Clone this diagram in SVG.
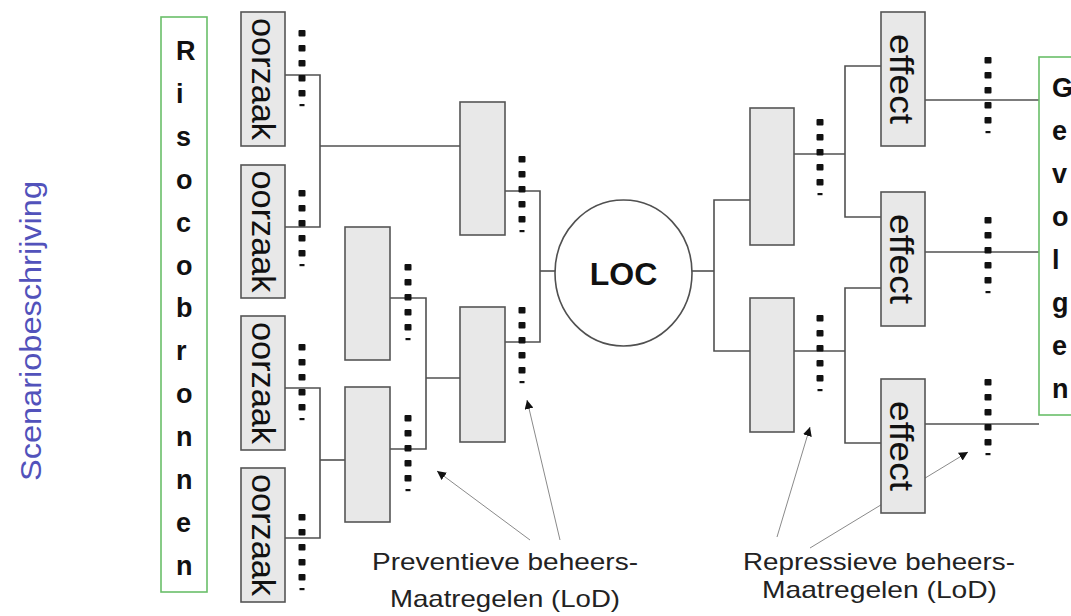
<svg xmlns="http://www.w3.org/2000/svg" xmlns:xlink="http://www.w3.org/1999/xlink" width="1071" height="616" viewBox="0 0 1071 616">
<style>
  .bg{fill:#ffffff}
  .box{fill:#e8e8e8;stroke:#555555;stroke-width:1.6}
  .green{fill:#ffffff;stroke:#6abf69;stroke-width:1.6}
  .con{fill:none;stroke:#505050;stroke-width:1.6}
  .ann{fill:none;stroke:#8a8a8a;stroke-width:1}
  .vt{font-family:"Liberation Sans",Arial,sans-serif;font-size:33px;fill:#111}
  .big{font-family:"Liberation Sans",Arial,sans-serif;font-size:27px;font-weight:bold;fill:#111}
  .lab{font-family:"Liberation Sans",Arial,sans-serif;font-size:24px;fill:#222}
  .scen{font-family:"Liberation Sans",Arial,sans-serif;font-size:30px;fill:#5252bb}
  .loc{font-family:"Liberation Sans",Arial,sans-serif;font-size:32px;font-weight:bold;fill:#111}
  .dot{fill:#111}
</style>
<defs>
  <g id="dots">
    <rect class="dot" x="-3.5" y="-3" width="7" height="6.5" rx="1"/>
    <rect class="dot" x="-3.5" y="12" width="7" height="6.5" rx="1"/>
    <rect class="dot" x="-3.5" y="27" width="7" height="6.5" rx="1"/>
    <rect class="dot" x="-3.5" y="42" width="7" height="6.5" rx="1"/>
    <rect class="dot" x="-3.5" y="57" width="7" height="6.5" rx="1"/>
    <rect class="dot" x="-2.5" y="71" width="5" height="2.2"/>
  </g>
  <marker id="ah" viewBox="0 0 10 10" refX="10" refY="5" markerWidth="9" markerHeight="9" markerUnits="userSpaceOnUse" orient="auto">
    <path d="M0,0 L10,5 L0,10 z" fill="#111"/>
  </marker>
</defs>
<rect class="bg" x="0" y="0" width="1071" height="616"/>

<text class="scen" transform="translate(41,331) rotate(-90)" text-anchor="middle" textLength="300" lengthAdjust="spacingAndGlyphs">Scenariobeschrijving</text>

<g id="connectors">
  <polyline class="con" points="285,75 320,75 320,227 285,227"/>
  <line class="con" x1="320" y1="146" x2="460" y2="146"/>
  <polyline class="con" points="285,388 320,388 320,538 285,538"/>
  <line class="con" x1="320" y1="460" x2="345" y2="460"/>
  <polyline class="con" points="390,298 426,298 426,449 390,449"/>
  <line class="con" x1="426" y1="378" x2="460" y2="378"/>
  <polyline class="con" points="505,191 540,191 540,342 505,342"/>
  <line class="con" x1="540" y1="271" x2="555" y2="271"/>
  <line class="con" x1="692" y1="271" x2="714" y2="271"/>
  <polyline class="con" points="750,200 714,200 714,351 750,351"/>
  <line class="con" x1="794" y1="154" x2="845" y2="154"/>
  <polyline class="con" points="881,66 845,66 845,217 881,217"/>
  <line class="con" x1="794" y1="351" x2="845" y2="351"/>
  <polyline class="con" points="881,288 845,288 845,443 881,443"/>
  <line class="con" x1="925" y1="100" x2="1039" y2="100"/>
  <line class="con" x1="925" y1="252" x2="1039" y2="252"/>
  <line class="con" x1="925" y1="424" x2="1039" y2="424"/>
  <line class="ann" x1="530" y1="540" x2="437" y2="471" marker-end="url(#ah)"/>
  <line class="ann" x1="560" y1="540" x2="527" y2="400" marker-end="url(#ah)"/>
  <line class="ann" x1="777" y1="537" x2="810" y2="427" marker-end="url(#ah)"/>
  <line class="ann" x1="810" y1="548" x2="968" y2="452" marker-end="url(#ah)"/>
</g>

<g id="dotted">
  <use xlink:href="#dots" href="#dots" x="302" y="33"/>
  <use xlink:href="#dots" href="#dots" x="302" y="193"/>
  <use xlink:href="#dots" href="#dots" x="302" y="347"/>
  <use xlink:href="#dots" href="#dots" x="302" y="517"/>
  <use xlink:href="#dots" href="#dots" x="408" y="267"/>
  <use xlink:href="#dots" href="#dots" x="408" y="418"/>
  <use xlink:href="#dots" href="#dots" x="522" y="159"/>
  <use xlink:href="#dots" href="#dots" x="522" y="310"/>
  <use xlink:href="#dots" href="#dots" x="820" y="122"/>
  <use xlink:href="#dots" href="#dots" x="820" y="318"/>
  <use xlink:href="#dots" href="#dots" x="988" y="60"/>
  <use xlink:href="#dots" href="#dots" x="988" y="220"/>
  <use xlink:href="#dots" href="#dots" x="988" y="382"/>
</g>

<g id="risicobronnen">
  <rect class="green" x="161" y="17" width="46" height="575"/>
  <text class="big" x="176" y="60">R</text>
  <text class="big" x="176" y="103">i</text>
  <text class="big" x="176" y="146">s</text>
  <text class="big" x="176" y="189">o</text>
  <text class="big" x="176" y="232">c</text>
  <text class="big" x="176" y="275">o</text>
  <text class="big" x="176" y="317">b</text>
  <text class="big" x="176" y="360">r</text>
  <text class="big" x="176" y="403">o</text>
  <text class="big" x="176" y="446">n</text>
  <text class="big" x="176" y="489">n</text>
  <text class="big" x="176" y="532">e</text>
  <text class="big" x="176" y="575">n</text>
</g>

<g id="oorzaak1">
  <rect class="box" x="241" y="12" width="44" height="134"/>
  <text class="vt" transform="translate(252,79) rotate(90)" text-anchor="middle" textLength="122" lengthAdjust="spacingAndGlyphs">oorzaak</text>
</g>
<g id="oorzaak2">
  <rect class="box" x="241" y="165" width="44" height="133"/>
  <text class="vt" transform="translate(252,231.5) rotate(90)" text-anchor="middle" textLength="122" lengthAdjust="spacingAndGlyphs">oorzaak</text>
</g>
<g id="oorzaak3">
  <rect class="box" x="241" y="316" width="44" height="134"/>
  <text class="vt" transform="translate(252,383) rotate(90)" text-anchor="middle" textLength="122" lengthAdjust="spacingAndGlyphs">oorzaak</text>
</g>
<g id="oorzaak4">
  <rect class="box" x="241" y="468" width="44" height="134"/>
  <text class="vt" transform="translate(252,535) rotate(90)" text-anchor="middle" textLength="122" lengthAdjust="spacingAndGlyphs">oorzaak</text>
</g>

<g id="prevA"><rect class="box" x="345" y="227" width="45" height="133"/></g>
<g id="prevB"><rect class="box" x="345" y="387" width="45" height="135"/></g>
<g id="prevC"><rect class="box" x="460" y="102" width="45" height="133"/></g>
<g id="prevD"><rect class="box" x="460" y="307" width="45" height="135"/></g>

<g id="loc">
  <ellipse cx="623.5" cy="273" rx="68.5" ry="73" fill="#ffffff" stroke="#505050" stroke-width="1.6"/>
  <text class="loc" x="623.5" y="285" text-anchor="middle">LOC</text>
</g>

<g id="repE"><rect class="box" x="750" y="108" width="44" height="137"/></g>
<g id="repF"><rect class="box" x="750" y="298" width="44" height="134"/></g>

<g id="effect1">
  <rect class="box" x="881" y="12" width="44" height="134"/>
  <text class="vt" transform="translate(890,79) rotate(90)" text-anchor="middle" textLength="90" lengthAdjust="spacingAndGlyphs">effect</text>
</g>
<g id="effect2">
  <rect class="box" x="881" y="192" width="44" height="134"/>
  <text class="vt" transform="translate(890,259) rotate(90)" text-anchor="middle" textLength="90" lengthAdjust="spacingAndGlyphs">effect</text>
</g>
<g id="effect3">
  <rect class="box" x="881" y="379" width="44" height="134"/>
  <text class="vt" transform="translate(890,446) rotate(90)" text-anchor="middle" textLength="90" lengthAdjust="spacingAndGlyphs">effect</text>
</g>

<g id="gevolgen">
  <rect class="green" x="1039" y="57" width="60" height="358"/>
  <text class="big" x="1052" y="97">G</text>
  <text class="big" x="1052" y="140">e</text>
  <text class="big" x="1052" y="183">v</text>
  <text class="big" x="1052" y="226">o</text>
  <text class="big" x="1052" y="269">l</text>
  <text class="big" x="1052" y="312">g</text>
  <text class="big" x="1052" y="355">e</text>
  <text class="big" x="1052" y="398">n</text>
</g>

<g id="labels">
  <text class="lab" x="372" y="570" textLength="266" lengthAdjust="spacingAndGlyphs">Preventieve beheers-</text>
  <text class="lab" x="390" y="607" textLength="230" lengthAdjust="spacingAndGlyphs">Maatregelen (LoD)</text>
  <text class="lab" x="743" y="570" textLength="272" lengthAdjust="spacingAndGlyphs">Repressieve beheers-</text>
  <text class="lab" x="762" y="598" textLength="235" lengthAdjust="spacingAndGlyphs">Maatregelen (LoD)</text>
</g>
</svg>
